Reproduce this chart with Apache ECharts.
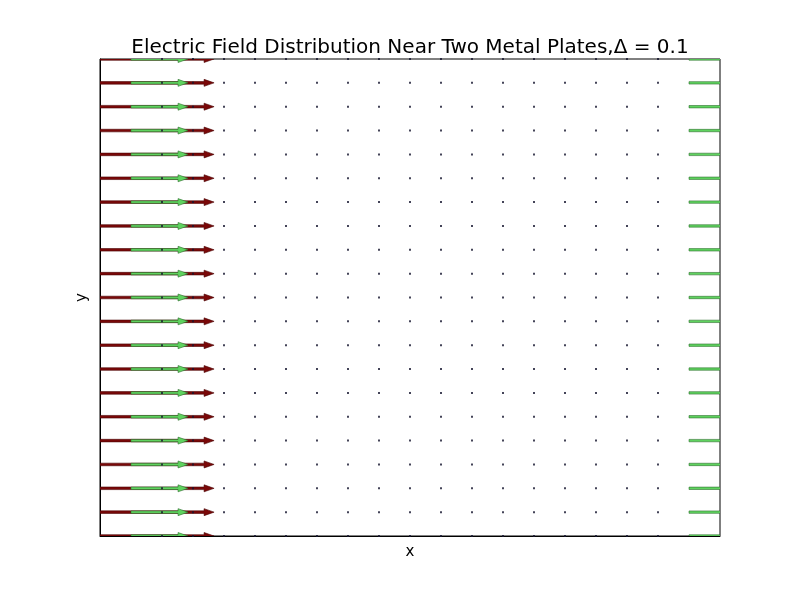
<!DOCTYPE html>
<html>
<head>
<meta charset="utf-8">
<script src="https://cdn.jsdelivr.net/npm/echarts@6/dist/echarts.min.js"></script>
<style>html,body{margin:0;padding:0;background:#fff;}#c{width:800px;height:596px;}</style>
</head>
<body>
<div id="c"></div>
<script>
// grid positions (Δ = 0.1)
const xs = [0.0,0.1,0.2,0.3,0.4,0.5,0.6,0.7,0.8,0.9,1.0,1.1,1.2,1.3,1.4,1.5,1.6,1.7,1.8,1.9,2.0];
const ys = [0.0,0.1,0.2,0.3,0.4,0.5,0.6,0.7,0.8,0.9,1.0,1.1,1.2,1.3,1.4,1.5,1.6,1.7,1.8,1.9,2.0];
// arrow x-components per column (same in every row), in x-axis units
const redU   = [0.368,0,0,0,0,0,0,0,0,0,0,0,0,0,0,0,0,0,0,0,0.368];
const greenU = [0,0.184,0,0,0,0,0,0,0,0,0,0,0,0,0,0,0,0,0,0.184,0];

const titleText = 'Electric Field Distribution Near Two Metal Plates,Δ = 0.1';

function buildArrows(u){
  const out = [];
  for (let j=0;j<ys.length;j++) for (let i=0;i<xs.length;i++) if (u[i]!==0) out.push([xs[i], ys[j], u[i], 0]);
  return out;
}
function buildDots(){
  const out = [];
  for (let j=0;j<ys.length;j++) for (let i=0;i<xs.length;i++) if (redU[i]===0 && greenU[i]===0) out.push([xs[i], ys[j]]);
  return out;
}

function arrowPoly(p0, p1, sw, hl, hw){
  const dx=p1[0]-p0[0], dy=p1[1]-p0[1];
  const L=Math.sqrt(dx*dx+dy*dy);
  const ux=dx/L, uy=dy/L, nx=-uy, ny=ux;
  const n=L-hl;
  const P=(a,b)=>[p0[0]+ux*a+nx*b, p0[1]+uy*a+ny*b];
  return [P(0,-sw/2),P(n,-sw/2),P(n,-hw/2),P(L,0),P(n,hw/2),P(n,sw/2),P(0,sw/2)];
}

function arrowSeries(data, fill, stroke, sw, hl, hw){
  return {
    type:'custom', coordinateSystem:'cartesian2d', clip:true, silent:true,
    data:data,
    renderItem:function(params, api){
      const x=api.value(0), y=api.value(1), u=api.value(2), v=api.value(3);
      const p0=api.coord([x,y]), p1=api.coord([x+u,y+v]);
      const cs=params.coordSys;
      return {
        type:'group',
        clipPath:{type:'rect', shape:{x:cs.x, y:cs.y, width:cs.width, height:cs.height}},
        children:[{
          type:'polygon',
          shape:{points:arrowPoly(p0,p1,sw,hl,hw)},
          style:{fill:fill, stroke:stroke, lineWidth:0.6}
        }]
      };
    }
  };
}

const chart = echarts.init(document.getElementById('c'), null, {renderer:'canvas'});
chart.setOption({
  animation:false,
  backgroundColor:'#fff',
  title:{text:titleText, left:405, top:33, textAlign:'center',
    textStyle:{fontFamily:'DejaVu Sans', fontSize:20, fontWeight:'normal', color:'#000'}},
  grid:{left:100, top:59, width:620, height:477, show:true, borderColor:'#000', borderWidth:1, backgroundColor:'transparent', containLabel:false},
  xAxis:{type:'value', min:0, max:2, name:'x', nameLocation:'middle', nameGap:9,
    nameTextStyle:{fontFamily:'DejaVu Sans', fontSize:15, color:'#000'},
    axisLine:{show:true, lineStyle:{color:'#000', width:1}}, axisTick:{show:false}, axisLabel:{show:false}, splitLine:{show:false}},
  yAxis:{type:'value', min:0, max:2, name:'y', nameLocation:'middle', nameGap:10,
    nameTextStyle:{fontFamily:'DejaVu Sans', fontSize:15, color:'#000'},
    axisLine:{show:true, lineStyle:{color:'#000', width:1}}, axisTick:{show:false}, axisLabel:{show:false}, splitLine:{show:false}},
  series:[
    arrowSeries(buildArrows(redU), '#7a0808', '#4a0404', 2.6, 10, 7),
    arrowSeries(buildArrows(greenU), '#5fd35f', '#2f6f2f', 2.4, 10, 7),
    {type:'scatter', silent:true, data:buildDots(), symbol:'rect', symbolSize:2,
      itemStyle:{color:'#15152e'}, z:5}
  ]
});
</script>
</body>
</html>
